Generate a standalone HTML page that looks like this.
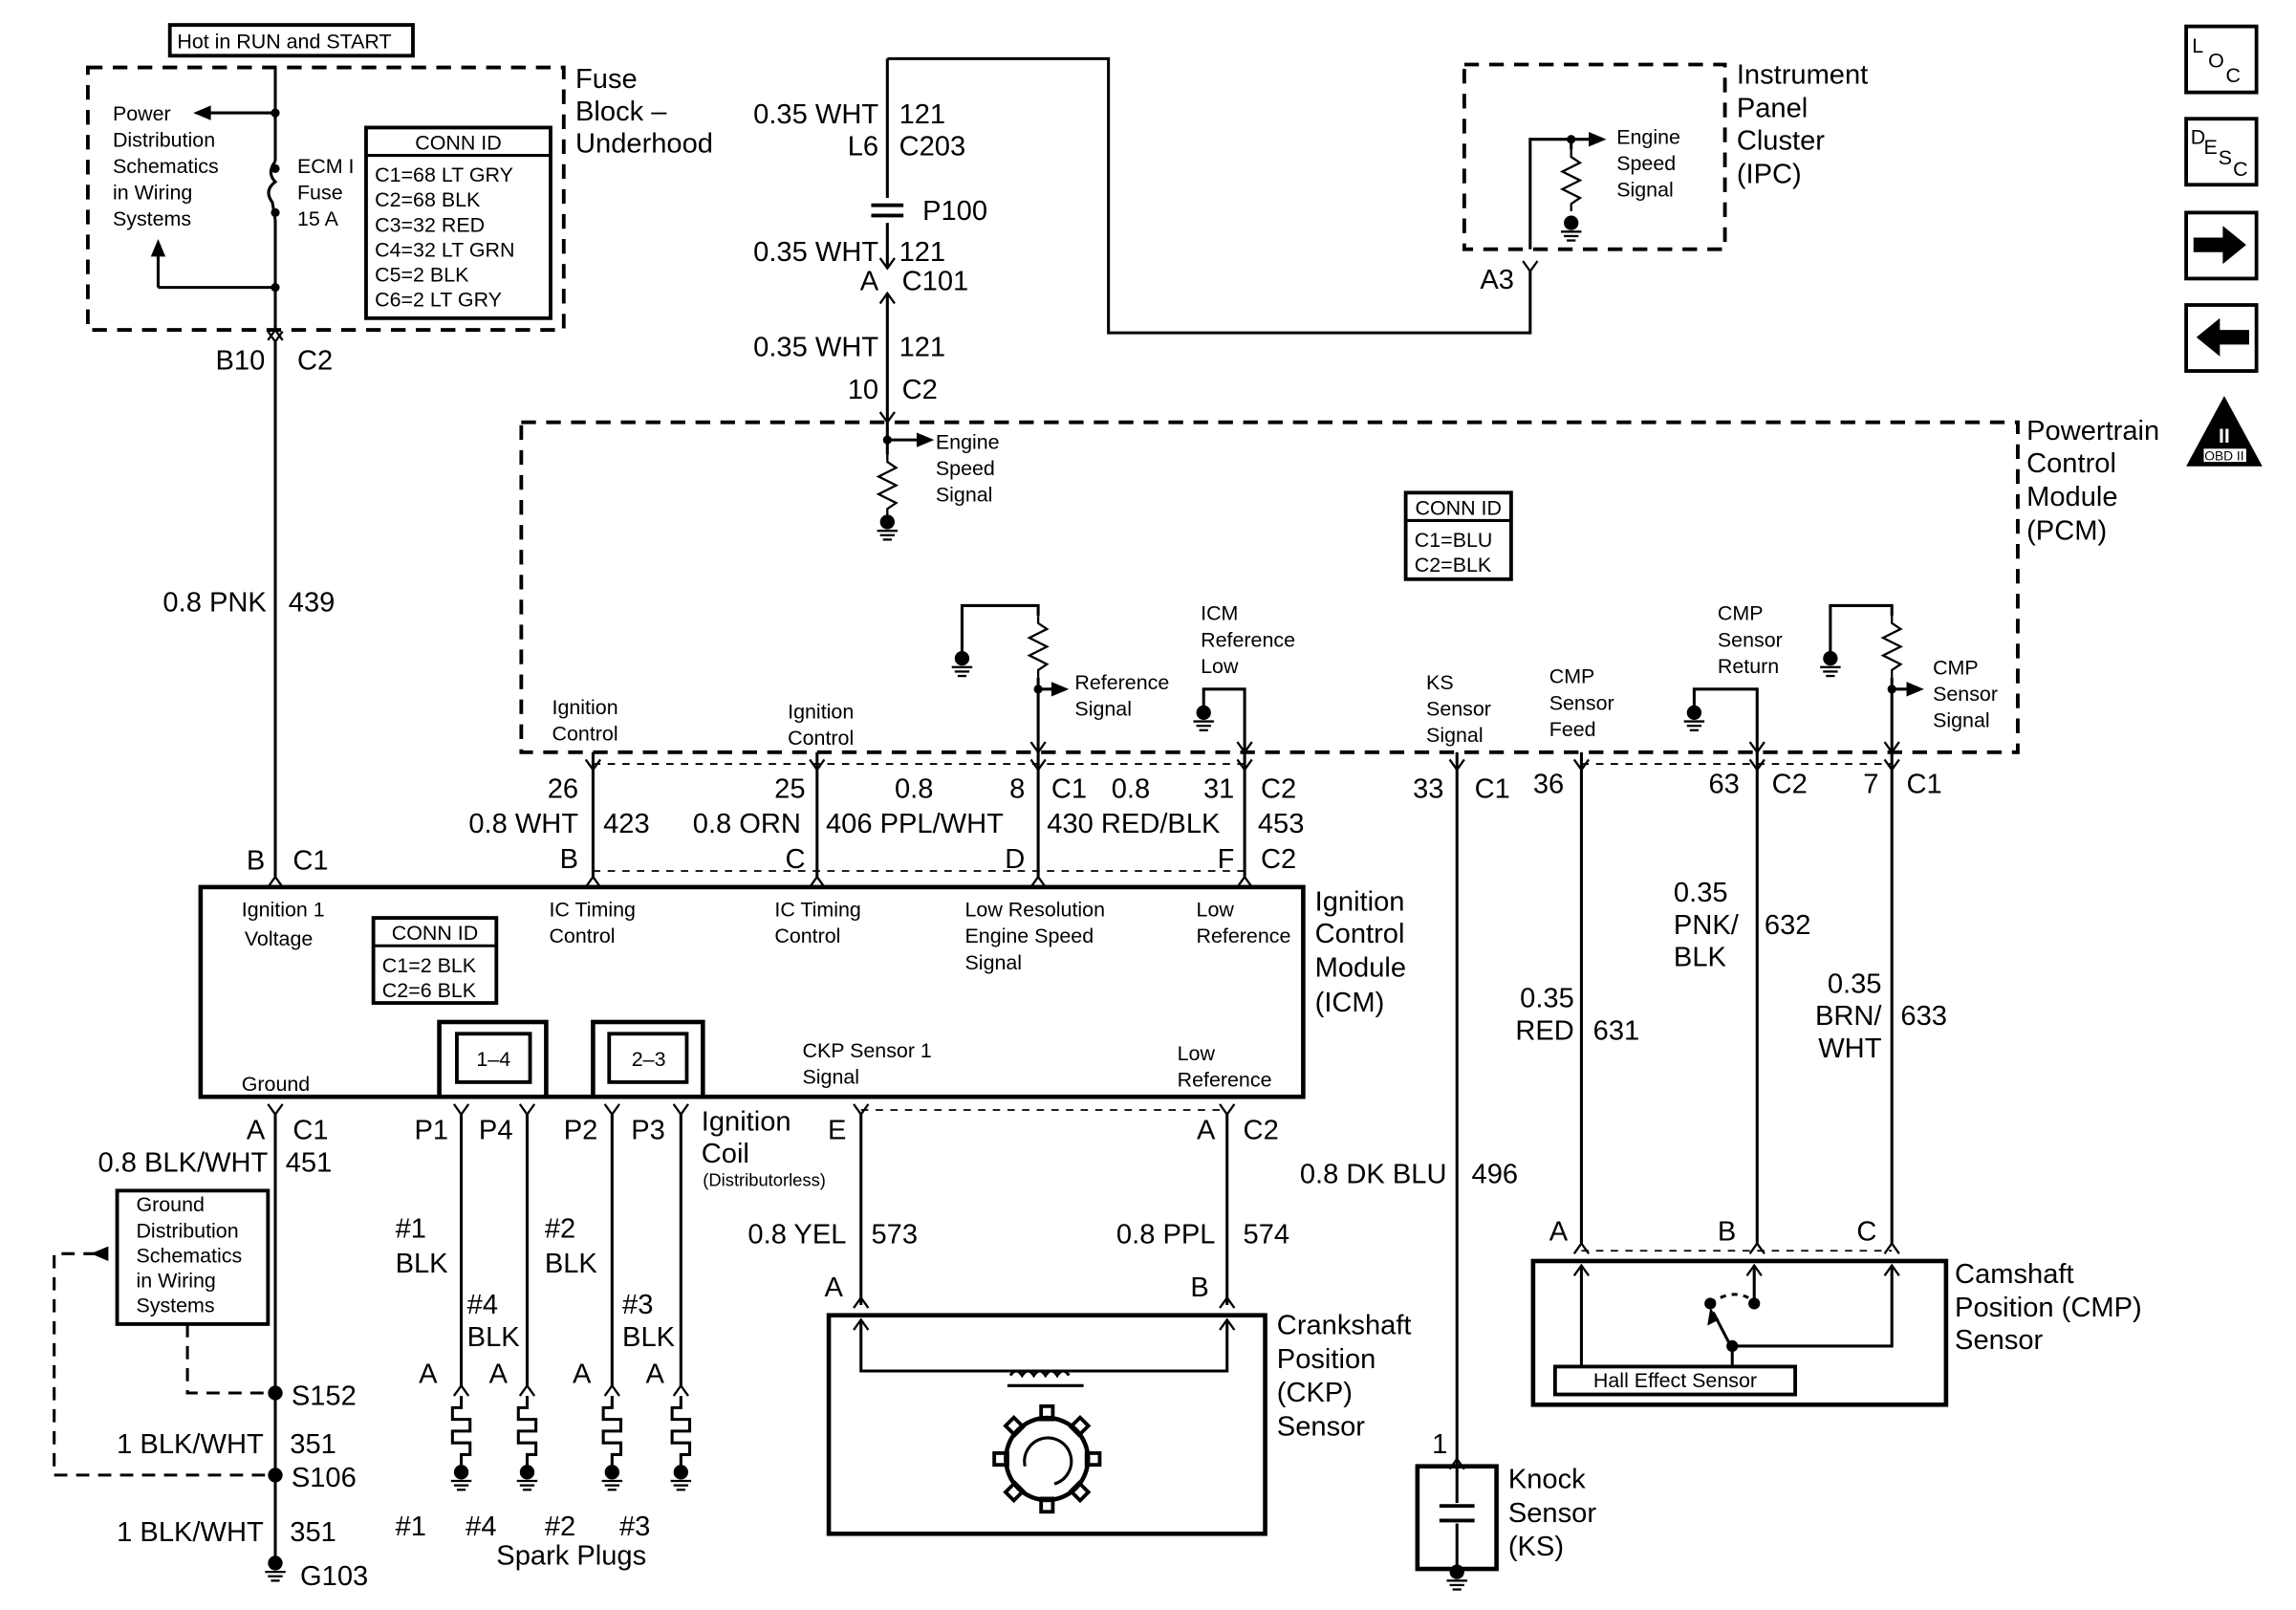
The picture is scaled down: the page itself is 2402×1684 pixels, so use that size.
<!DOCTYPE html>
<html><head><meta charset="utf-8"><style>
html,body{margin:0;padding:0;background:#fff}
svg{display:block}
text{font-family:"Liberation Sans",sans-serif;fill:#000}
.m{font-size:19px}
.s{font-size:14px}
.xs{font-size:12px}
</style></head><body>
<svg width="2402" height="1684" viewBox="0 0 1568 1098" preserveAspectRatio="none" xmlns="http://www.w3.org/2000/svg">
<defs>
<g id="v"><polyline points="-5,-7 0,0 5,-7" fill="none" stroke="#000" stroke-width="1.5"/></g>
<g id="c"><polyline points="-5,7 0,0 5,7" fill="none" stroke="#000" stroke-width="1.5"/></g>
<g id="gnd"><line x1="0" y1="0" x2="0" y2="6" stroke="#000" stroke-width="2"/><circle cx="0" cy="4" r="5" fill="#000"/><line x1="-7" y1="10" x2="7" y2="10" stroke="#000" stroke-width="1.5"/><line x1="-5" y1="13" x2="5" y2="13" stroke="#000" stroke-width="1.5"/><line x1="-3" y1="16" x2="3" y2="16" stroke="#000" stroke-width="1.5"/></g>
<g id="res"><polyline points="0,0 0,5 6,9 -6,15 6,21 -6,27 6,33 0,37 0,42" fill="none" stroke="#000" stroke-width="1.5"/></g>
<g id="plug"><polyline points="0,0 0,8 -6,8 -6,16 6,16 6,24 -6,24 -6,32 6,32 6,40 0,40 0,48" fill="none" stroke="#000" stroke-width="2"/></g>
<rect id="tooth" x="-4" y="-36" width="8" height="9" fill="none" stroke="#000" stroke-width="2.5"/>
</defs>
<g stroke="#000" fill="none" stroke-width="2">
<rect x="116" y="17" width="166" height="21" stroke-width="2.5"/>
<rect x="60" y="46" width="325" height="179" stroke-dasharray="10,7" stroke-width="2.5"/>
<line x1="188" y1="46" x2="188" y2="110"/>
<path d="M188 110 q-6 8 0 14 q-8 6 -2 14 l2 12"/>
<line x1="188" y1="150" x2="188" y2="225"/>
<line x1="188" y1="77" x2="140" y2="77"/>
<line x1="188" y1="196" x2="108" y2="196"/><line x1="108" y1="196" x2="108" y2="172"/>
<rect x="250" y="87" width="126" height="130" stroke-width="2.5"/>
<line x1="250" y1="106" x2="376" y2="106"/>
<line x1="188" y1="233" x2="188" y2="598"/>
<line x1="606" y1="40" x2="606" y2="135"/><line x1="606" y1="152" x2="606" y2="183"/><line x1="606" y1="200" x2="606" y2="288"/>
<polyline points="606,40 757,40 757,227 1045,227 1045,185"/>
<line x1="595" y1="140" x2="617" y2="140" stroke-width="2.5"/><line x1="595" y1="147" x2="617" y2="147" stroke-width="2.5"/>
<rect x="1000" y="44" width="178" height="126" stroke-dasharray="10,7" stroke-width="2.5"/>
<polyline points="1045,170 1045,95 1090,95"/>
<line x1="1073" y1="95" x2="1073" y2="102"/>
<rect x="356" y="288" width="1022" height="225" stroke-dasharray="10,7" stroke-width="2.5"/>
<line x1="606" y1="288" x2="606" y2="310"/><line x1="606" y1="300" x2="628" y2="300"/>
<rect x="960" y="336" width="72" height="59" stroke-width="2.5"/><line x1="960" y1="355" x2="1032" y2="355"/>
<polyline points="657,445 657,413 709,413 709,420"/><line x1="709" y1="462" x2="709" y2="525"/><line x1="709" y1="470" x2="724" y2="470"/>
<polyline points="822,482 822,470 850,470 850,525"/>
<polyline points="1157,482 1157,470 1200,470 1200,525"/>
<polyline points="1250,445 1250,413 1292,413 1292,420"/><line x1="1292" y1="462" x2="1292" y2="525"/><line x1="1292" y1="470" x2="1308" y2="470"/>
<line x1="405" y1="513" x2="405" y2="525"/><line x1="558" y1="513" x2="558" y2="525"/><line x1="995" y1="513" x2="995" y2="525"/><line x1="1080" y1="513" x2="1080" y2="525"/>
<line x1="405" y1="521" x2="850" y2="521" stroke-dasharray="5,5" stroke-width="1.2"/>
<line x1="1080" y1="521" x2="1292" y2="521" stroke-dasharray="5,5" stroke-width="1.2"/>
<line x1="405" y1="525" x2="405" y2="598"/><line x1="558" y1="525" x2="558" y2="598"/><line x1="709" y1="525" x2="709" y2="598"/><line x1="850" y1="525" x2="850" y2="598"/>
<line x1="405" y1="594" x2="850" y2="594" stroke-dasharray="5,5" stroke-width="1.2"/>
<line x1="995" y1="525" x2="995" y2="1000"/><line x1="1080" y1="525" x2="1080" y2="848"/><line x1="1200" y1="525" x2="1200" y2="848"/><line x1="1292" y1="525" x2="1292" y2="848"/>
<rect x="137" y="605" width="753" height="143" stroke-width="3"/>
<rect x="300" y="697" width="73" height="51" fill="#fff" stroke-width="3"/><rect x="312" y="705" width="50" height="33" stroke-width="2.5"/>
<rect x="405" y="697" width="75" height="51" fill="#fff" stroke-width="3"/><rect x="416" y="705" width="53" height="33" stroke-width="2.5"/>
<rect x="255" y="626" width="84" height="58" stroke-width="2.5"/><line x1="255" y1="645" x2="339" y2="645"/>
<line x1="188" y1="760" x2="188" y2="1062"/>
<line x1="315" y1="760" x2="315" y2="945"/><line x1="360" y1="760" x2="360" y2="945"/><line x1="418" y1="760" x2="418" y2="945"/><line x1="465" y1="760" x2="465" y2="945"/>
<line x1="588" y1="760" x2="588" y2="890"/><line x1="838" y1="760" x2="838" y2="890"/>
<line x1="588" y1="757" x2="838" y2="757" stroke-dasharray="5,5" stroke-width="1.2"/>
<rect x="80" y="812" width="103" height="91" stroke-width="2.5"/>
<polyline points="128,903 128,950 186,950" stroke-dasharray="9,6"/>
<polyline points="66,855 37,855 37,1006 186,1006" stroke-dasharray="9,6"/>
<rect x="566" y="897" width="298" height="149" stroke-width="3"/>
<polyline points="588,900 588,935 838,935 838,900"/>
<path d="M690 938 q4 -6 8 0 q4 -6 8 0 q4 -6 8 0 q4 -6 8 0 q4 -6 8 0"/>
<line x1="688" y1="945" x2="740" y2="945"/>
<circle cx="715" cy="995" r="28" stroke-width="3"/>
<g transform="translate(715,995)">
<use href="#tooth"/><use href="#tooth" transform="rotate(45)"/><use href="#tooth" transform="rotate(90)"/><use href="#tooth" transform="rotate(135)"/><use href="#tooth" transform="rotate(180)"/><use href="#tooth" transform="rotate(225)"/><use href="#tooth" transform="rotate(270)"/><use href="#tooth" transform="rotate(315)"/>
</g>
<path d="M700 1000 a16 16 0 1 1 20 12" stroke-width="2"/>
<rect x="968" y="1000" width="54" height="70" stroke-width="3"/>
<line x1="995" y1="1000" x2="995" y2="1025"/><line x1="983" y1="1027" x2="1007" y2="1027" stroke-width="2.5"/><line x1="983" y1="1037" x2="1007" y2="1037" stroke-width="2.5"/><line x1="995" y1="1039" x2="995" y2="1068"/>
<line x1="1080" y1="853" x2="1292" y2="853" stroke-dasharray="5,5" stroke-width="1.2"/>
<rect x="1047" y="860" width="282" height="98" stroke-width="3"/>
<line x1="1080" y1="863" x2="1080" y2="932"/>
<polyline points="1198,863 1198,889"/>
<path d="M1168 889 q14 -10 26 -4" stroke-dasharray="4,4"/>
<line x1="1183" y1="920" x2="1170" y2="895"/>
<polyline points="1183,932 1183,918 1292,918 1292,863"/>
<rect x="1062" y="932" width="164" height="19" stroke-width="2.5"/>
<rect x="1493" y="18" width="48" height="45" stroke-width="2.5"/>
<rect x="1493" y="81" width="48" height="45" stroke-width="2.5"/>
<rect x="1493" y="145" width="48" height="45" stroke-width="2.5"/>
<rect x="1493" y="208" width="48" height="45" stroke-width="2.5"/>
</g>
<g fill="#000">
<polygon points="132,77 144,72 144,82"/>
<polygon points="108,163 103,175 113,175"/>
<polygon points="638,300 626,295 626,305"/>
<polygon points="1097,95 1085,90 1085,100"/>
<polygon points="730,470 718,465 718,475"/>
<polygon points="1314,470 1302,465 1302,475"/>
<polygon points="62,855 74,850 74,860"/>
<polygon points="1168,892 1166,904 1174,900"/>
<circle cx="188" cy="77" r="3"/><circle cx="188" cy="196" r="3"/><circle cx="188" cy="115" r="3"/><circle cx="188" cy="145" r="3"/>
<circle cx="1073" cy="95" r="3"/><circle cx="606" cy="300" r="3"/><circle cx="709" cy="470" r="3"/><circle cx="1292" cy="470" r="3"/>
<circle cx="188" cy="950" r="5"/><circle cx="188" cy="1006" r="5"/>
<circle cx="1198" cy="889" r="4"/><circle cx="1168" cy="889" r="4"/><circle cx="1183" cy="918" r="4"/>
<polygon points="1498,162 1518,162 1518,154 1534,167 1518,180 1518,172 1498,172"/>
<polygon points="1536,225 1516,225 1516,217 1500,230 1516,243 1516,235 1536,235"/>
<polygon points="1519,270 1493,318 1545,318"/>
</g>
<rect x="1505" y="306" width="29" height="9" fill="#fff"/>
<text x="1519" y="314" text-anchor="middle" style="font-size:9px">OBD II</text>
<text x="1519" y="302" text-anchor="middle" style="font-size:14px;fill:#fff;font-weight:bold">II</text>
<use href="#res" x="1073" y="102"/><use href="#gnd" x="1073" y="148"/>
<use href="#res" x="606" y="310"/><use href="#gnd" x="606" y="352"/>
<use href="#res" x="709" y="420"/><use href="#gnd" x="657" y="445"/>
<use href="#gnd" x="822" y="482"/><use href="#gnd" x="1157" y="482"/>
<use href="#res" x="1292" y="420"/><use href="#gnd" x="1250" y="445"/>
<use href="#gnd" x="188" y="1062"/><use href="#gnd" x="995" y="1068"/>
<use href="#plug" x="315" y="952"/><use href="#plug" x="360" y="952"/><use href="#plug" x="418" y="952"/><use href="#plug" x="465" y="952"/>
<use href="#gnd" x="315" y="1000"/><use href="#gnd" x="360" y="1000"/><use href="#gnd" x="418" y="1000"/><use href="#gnd" x="465" y="1000"/>
<use href="#v" x="188" y="233"/><use href="#c" x="188" y="225"/>
<use href="#v" x="606" y="183"/><use href="#c" x="606" y="200"/><use href="#v" x="1045" y="185"/>
<use href="#v" x="606" y="288"/>
<use href="#v" x="405" y="525"/><use href="#v" x="558" y="525"/><use href="#v" x="709" y="525"/><use href="#v" x="850" y="525"/><use href="#v" x="995" y="525"/><use href="#v" x="1080" y="525"/><use href="#v" x="1200" y="525"/><use href="#v" x="1292" y="525"/>
<use href="#v" x="709" y="513"/><use href="#v" x="850" y="513"/><use href="#v" x="1200" y="513"/><use href="#v" x="1292" y="513"/>
<use href="#c" x="188" y="598"/><use href="#c" x="405" y="598"/><use href="#c" x="558" y="598"/><use href="#c" x="709" y="598"/><use href="#c" x="850" y="598"/>
<use href="#v" x="188" y="760"/><use href="#v" x="315" y="760"/><use href="#v" x="360" y="760"/><use href="#v" x="418" y="760"/><use href="#v" x="465" y="760"/><use href="#v" x="588" y="760"/><use href="#v" x="838" y="760"/>
<use href="#c" x="315" y="945"/><use href="#c" x="360" y="945"/><use href="#c" x="418" y="945"/><use href="#c" x="465" y="945"/>
<use href="#c" x="588" y="885"/><use href="#c" x="838" y="885"/><use href="#c" x="588" y="900"/><use href="#c" x="838" y="900"/>
<use href="#c" x="995" y="995"/>
<use href="#c" x="1080" y="848"/><use href="#c" x="1200" y="848"/><use href="#c" x="1292" y="848"/>
<use href="#c" x="1080" y="863"/><use href="#c" x="1198" y="863"/><use href="#c" x="1292" y="863"/>
<text x="121" y="33" class="s">Hot in RUN and START</text>
<g class="s">
<text x="77" y="82">Power</text><text x="77" y="100">Distribution</text><text x="77" y="118">Schematics</text><text x="77" y="136">in Wiring</text><text x="77" y="154">Systems</text>
<text x="203" y="118">ECM I</text><text x="203" y="136">Fuse</text><text x="203" y="154">15 A</text>
<text x="313" y="102" text-anchor="middle">CONN ID</text>
<text x="256" y="124">C1=68 LT GRY</text><text x="256" y="141">C2=68 BLK</text><text x="256" y="158">C3=32 RED</text><text x="256" y="175">C4=32 LT GRN</text><text x="256" y="192">C5=2 BLK</text><text x="256" y="209">C6=2 LT GRY</text>
<text x="1104" y="98">Engine</text><text x="1104" y="116">Speed</text><text x="1104" y="134">Signal</text>
<text x="639" y="306">Engine</text><text x="639" y="324">Speed</text><text x="639" y="342">Signal</text>
<text x="996" y="351" text-anchor="middle">CONN ID</text><text x="966" y="373">C1=BLU</text><text x="966" y="390">C2=BLK</text>
<text x="734" y="470">Reference</text><text x="734" y="488">Signal</text>
<text x="820" y="423">ICM</text><text x="820" y="441">Reference</text><text x="820" y="459">Low</text>
<text x="974" y="470">KS</text><text x="974" y="488">Sensor</text><text x="974" y="506">Signal</text>
<text x="1058" y="466">CMP</text><text x="1058" y="484">Sensor</text><text x="1058" y="502">Feed</text>
<text x="1173" y="423">CMP</text><text x="1173" y="441">Sensor</text><text x="1173" y="459">Return</text>
<text x="1320" y="460">CMP</text><text x="1320" y="478">Sensor</text><text x="1320" y="496">Signal</text>
<text x="377" y="487">Ignition</text><text x="377" y="505">Control</text>
<text x="538" y="490">Ignition</text><text x="538" y="508">Control</text>
<text x="165" y="625">Ignition 1</text><text x="167" y="645">Voltage</text>
<text x="297" y="641" text-anchor="middle">CONN ID</text><text x="261" y="663">C1=2 BLK</text><text x="261" y="680">C2=6 BLK</text>
<text x="375" y="625">IC Timing</text><text x="375" y="643">Control</text>
<text x="529" y="625">IC Timing</text><text x="529" y="643">Control</text>
<text x="659" y="625">Low Resolution</text><text x="659" y="643">Engine Speed</text><text x="659" y="661">Signal</text>
<text x="817" y="625">Low</text><text x="817" y="643">Reference</text>
<text x="165" y="744">Ground</text>
<text x="337" y="727" text-anchor="middle">1–4</text><text x="443" y="727" text-anchor="middle">2–3</text>
<text x="548" y="721">CKP Sensor 1</text><text x="548" y="739">Signal</text>
<text x="804" y="723">Low</text><text x="804" y="741">Reference</text>
<text x="93" y="826">Ground</text><text x="93" y="844">Distribution</text><text x="93" y="861">Schematics</text><text x="93" y="878">in Wiring</text><text x="93" y="895">Systems</text>
<text x="1144" y="946" text-anchor="middle">Hall Effect Sensor</text>
</g>
<text x="480" y="809" class="xs">(Distributorless)</text>
<g class="m">
<text x="393" y="60">Fuse</text><text x="393" y="82">Block –</text><text x="393" y="104">Underhood</text>
<text x="1186" y="57">Instrument</text><text x="1186" y="80">Panel</text><text x="1186" y="102">Cluster</text><text x="1186" y="125">(IPC)</text>
<text x="1384" y="300">Powertrain</text><text x="1384" y="322">Control</text><text x="1384" y="345">Module</text><text x="1384" y="368">(PCM)</text>
<text x="898" y="621">Ignition</text><text x="898" y="643">Control</text><text x="898" y="666">Module</text><text x="898" y="690">(ICM)</text>
<text x="872" y="910">Crankshaft</text><text x="872" y="933">Position</text><text x="872" y="956">(CKP)</text><text x="872" y="979">Sensor</text>
<text x="1030" y="1015">Knock</text><text x="1030" y="1038">Sensor</text><text x="1030" y="1061">(KS)</text>
<text x="1335" y="875">Camshaft</text><text x="1335" y="898">Position (CMP)</text><text x="1335" y="920">Sensor</text>
<text x="181" y="252" text-anchor="end">B10</text><text x="203" y="252">C2</text>
<text x="182" y="417" text-anchor="end">0.8 PNK</text><text x="197" y="417">439</text>
<text x="181" y="593" text-anchor="end">B</text><text x="200" y="593">C1</text>
<text x="600" y="84" text-anchor="end">0.35 WHT</text><text x="614" y="84">121</text>
<text x="600" y="106" text-anchor="end">L6</text><text x="614" y="106">C203</text>
<text x="630" y="150">P100</text>
<text x="600" y="178" text-anchor="end">0.35 WHT</text><text x="614" y="178">121</text>
<text x="600" y="198" text-anchor="end">A</text><text x="616" y="198">C101</text>
<text x="600" y="243" text-anchor="end">0.35 WHT</text><text x="614" y="243">121</text>
<text x="600" y="272" text-anchor="end">10</text><text x="616" y="272">C2</text>
<text x="1034" y="197" text-anchor="end">A3</text>
<text x="395" y="544" text-anchor="end">26</text><text x="550" y="544" text-anchor="end">25</text><text x="611" y="544">0.8</text><text x="700" y="544" text-anchor="end">8</text><text x="718" y="544">C1</text><text x="759" y="544">0.8</text><text x="843" y="544" text-anchor="end">31</text><text x="861" y="544">C2</text>
<text x="986" y="544" text-anchor="end">33</text><text x="1007" y="544">C1</text><text x="1047" y="541">36</text><text x="1188" y="541" text-anchor="end">63</text><text x="1210" y="541">C2</text><text x="1283" y="541" text-anchor="end">7</text><text x="1302" y="541">C1</text>
<text x="395" y="568" text-anchor="end">0.8 WHT</text><text x="412" y="568">423</text><text x="547" y="568" text-anchor="end">0.8 ORN</text><text x="564" y="568">406 PPL/WHT</text><text x="715" y="568">430 RED/BLK</text><text x="859" y="568">453</text>
<text x="395" y="592" text-anchor="end">B</text><text x="550" y="592" text-anchor="end">C</text><text x="700" y="592" text-anchor="end">D</text><text x="843" y="592" text-anchor="end">F</text><text x="861" y="592">C2</text>
<text x="181" y="777" text-anchor="end">A</text><text x="200" y="777">C1</text>
<text x="183" y="799" text-anchor="end">0.8 BLK/WHT</text><text x="195" y="799">451</text>
<text x="283" y="777">P1</text><text x="327" y="777">P4</text><text x="385" y="777">P2</text><text x="431" y="777">P3</text>
<text x="479" y="771">Ignition</text><text x="479" y="793">Coil</text>
<text x="578" y="777" text-anchor="end">E</text><text x="830" y="777" text-anchor="end">A</text><text x="849" y="777">C2</text>
<text x="988" y="807" text-anchor="end">0.8 DK BLU</text><text x="1005" y="807">496</text>
<text x="270" y="844">#1</text><text x="270" y="868">BLK</text><text x="372" y="844">#2</text><text x="372" y="868">BLK</text>
<text x="319" y="896">#4</text><text x="319" y="918">BLK</text><text x="425" y="896">#3</text><text x="425" y="918">BLK</text>
<text x="578" y="848" text-anchor="end">0.8 YEL</text><text x="595" y="848">573</text>
<text x="830" y="848" text-anchor="end">0.8 PPL</text><text x="849" y="848">574</text>
<text x="563" y="884">A</text><text x="813" y="884">B</text>
<text x="286" y="943">A</text><text x="334" y="943">A</text><text x="391" y="943">A</text><text x="441" y="943">A</text>
<text x="199" y="958">S152</text><text x="199" y="1014">S106</text>
<text x="180" y="991" text-anchor="end">1 BLK/WHT</text><text x="198" y="991">351</text>
<text x="180" y="1051" text-anchor="end">1 BLK/WHT</text><text x="198" y="1051">351</text>
<text x="205" y="1081">G103</text>
<text x="270" y="1047">#1</text><text x="318" y="1047">#4</text><text x="372" y="1047">#2</text><text x="423" y="1047">#3</text>
<text x="339" y="1067">Spark Plugs</text>
<text x="978" y="991">1</text>
<text x="1075" y="687" text-anchor="end">0.35</text><text x="1075" y="709" text-anchor="end">RED</text><text x="1088" y="709">631</text>
<text x="1143" y="615">0.35</text><text x="1143" y="637">PNK/</text><text x="1143" y="659">BLK</text><text x="1205" y="637">632</text>
<text x="1285" y="677" text-anchor="end">0.35</text><text x="1285" y="699" text-anchor="end">BRN/</text><text x="1285" y="721" text-anchor="end">WHT</text><text x="1298" y="699">633</text>
<text x="1058" y="846">A</text><text x="1173" y="846">B</text><text x="1268" y="846">C</text>
</g>
<g class="s">
<text x="1497" y="36">L</text><text x="1508" y="46">O</text><text x="1520" y="56">C</text>
<text x="1496" y="98">D</text><text x="1505" y="105">E</text><text x="1515" y="112">S</text><text x="1525" y="120">C</text>
</g>
</svg>
</body></html>
